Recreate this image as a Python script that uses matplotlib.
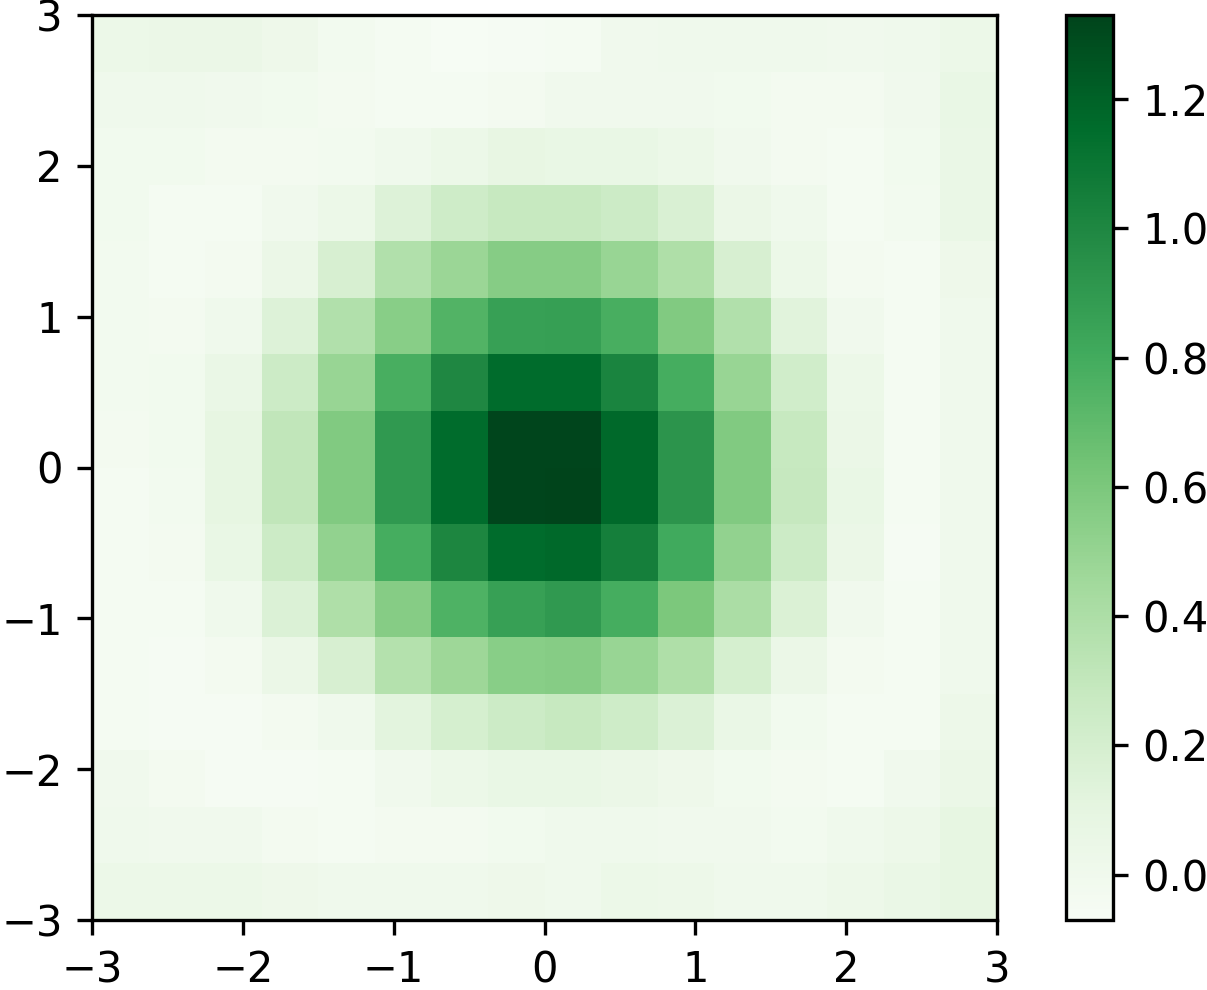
import numpy as np
import matplotlib
matplotlib.use("Agg")
import matplotlib.pyplot as plt

# 16x16 grid values, rows listed from top (y=+3) to bottom (y=-3), columns left to right
row_00 = [0.04, 0.05, 0.05, 0.02, -0.02, -0.04, -0.06, -0.05, -0.04, 0.00, 0.01, 0.01, 0.01, 0.00, 0.01, 0.04]
row_01 = [0.01, 0.01, 0.00, -0.01, -0.03, -0.04, -0.04, -0.03, 0.00, 0.00, 0.00, -0.01, -0.03, -0.03, 0.00, 0.07]
row_02 = [-0.01, -0.01, -0.03, -0.03, -0.02, 0.01, 0.04, 0.08, 0.07, 0.07, 0.04, 0.00, -0.03, -0.04, -0.01, 0.06]
row_03 = [-0.01, -0.04, -0.04, 0.00, 0.04, 0.15, 0.24, 0.28, 0.28, 0.25, 0.18, 0.05, 0.01, -0.04, -0.02, 0.06]
row_04 = [-0.02, -0.04, -0.03, 0.05, 0.19, 0.38, 0.48, 0.56, 0.56, 0.49, 0.39, 0.19, 0.04, -0.03, -0.04, 0.02]
row_05 = [-0.02, -0.03, 0.01, 0.15, 0.38, 0.55, 0.75, 0.86, 0.87, 0.78, 0.58, 0.38, 0.13, 0.00, -0.04, 0.01]
row_06 = [-0.02, -0.01, 0.06, 0.25, 0.49, 0.78, 1.00, 1.155, 1.16, 1.02, 0.79, 0.49, 0.23, 0.04, -0.04, 0.01]
row_07 = [-0.03, -0.01, 0.09, 0.31, 0.58, 0.90, 1.16, 1.32, 1.32, 1.17, 0.93, 0.58, 0.28, 0.05, -0.04, 0.01]
row_08 = [-0.04, -0.02, 0.09, 0.31, 0.58, 0.90, 1.16, 1.32, 1.33, 1.17, 0.93, 0.58, 0.29, 0.07, -0.04, 0.01]
row_09 = [-0.04, -0.03, 0.07, 0.25, 0.51, 0.79, 1.01, 1.16, 1.17, 1.05, 0.81, 0.51, 0.25, 0.05, -0.05, 0.01]
row_10 = [-0.04, -0.04, 0.01, 0.16, 0.39, 0.56, 0.76, 0.86, 0.90, 0.79, 0.60, 0.41, 0.17, 0.00, -0.04, 0.01]
row_11 = [-0.04, -0.05, -0.03, 0.05, 0.19, 0.37, 0.47, 0.55, 0.56, 0.49, 0.39, 0.20, 0.05, -0.03, -0.04, 0.01]
row_12 = [-0.04, -0.05, -0.05, -0.03, 0.01, 0.12, 0.20, 0.25, 0.28, 0.24, 0.16, 0.06, -0.01, -0.04, -0.04, 0.03]
row_13 = [0.00, -0.03, -0.05, -0.05, -0.04, 0.00, 0.04, 0.07, 0.07, 0.05, 0.02, -0.01, -0.03, -0.04, 0.00, 0.05]
row_14 = [0.01, 0.00, 0.00, -0.03, -0.04, -0.03, -0.03, -0.01, 0.01, 0.01, 0.00, 0.00, -0.02, 0.01, 0.03, 0.09]
row_15 = [0.04, 0.04, 0.04, 0.02, 0.01, 0.01, 0.01, 0.02, 0.01, 0.04, 0.03, 0.01, 0.01, 0.03, 0.06, 0.09]

rows_top_to_bottom = [row_00, row_01, row_02, row_03, row_04, row_05, row_06, row_07,
                      row_08, row_09, row_10, row_11, row_12, row_13, row_14, row_15]
Z = np.array(rows_top_to_bottom[::-1])  # bottom row first for pcolormesh

x_edges = np.linspace(-3, 3, 17)
y_edges = np.linspace(-3, 3, 17)
axis_ticks = [-3, -2, -1, 0, 1, 2, 3]
cbar_ticks = [0.0, 0.2, 0.4, 0.6, 0.8, 1.0, 1.2]

W, H, DPI = 1207, 990, 300
fig = plt.figure(figsize=(W / DPI, H / DPI), dpi=DPI)
ax = fig.add_axes([92 / W, 1 - 920 / H, 905 / W, 905 / H])
cax = fig.add_axes([1066 / W, 1 - 920 / H, 47 / W, 905 / H])

mesh = ax.pcolormesh(x_edges, y_edges, Z, cmap="Greens", vmin=-0.07, vmax=1.33)
ax.set_xlim(-3, 3)
ax.set_ylim(-3, 3)
ax.set_xticks(axis_ticks)
ax.set_yticks(axis_ticks)

cb = fig.colorbar(mesh, cax=cax)
cb.set_ticks(cbar_ticks)

fig.savefig("out.png", dpi=DPI)
